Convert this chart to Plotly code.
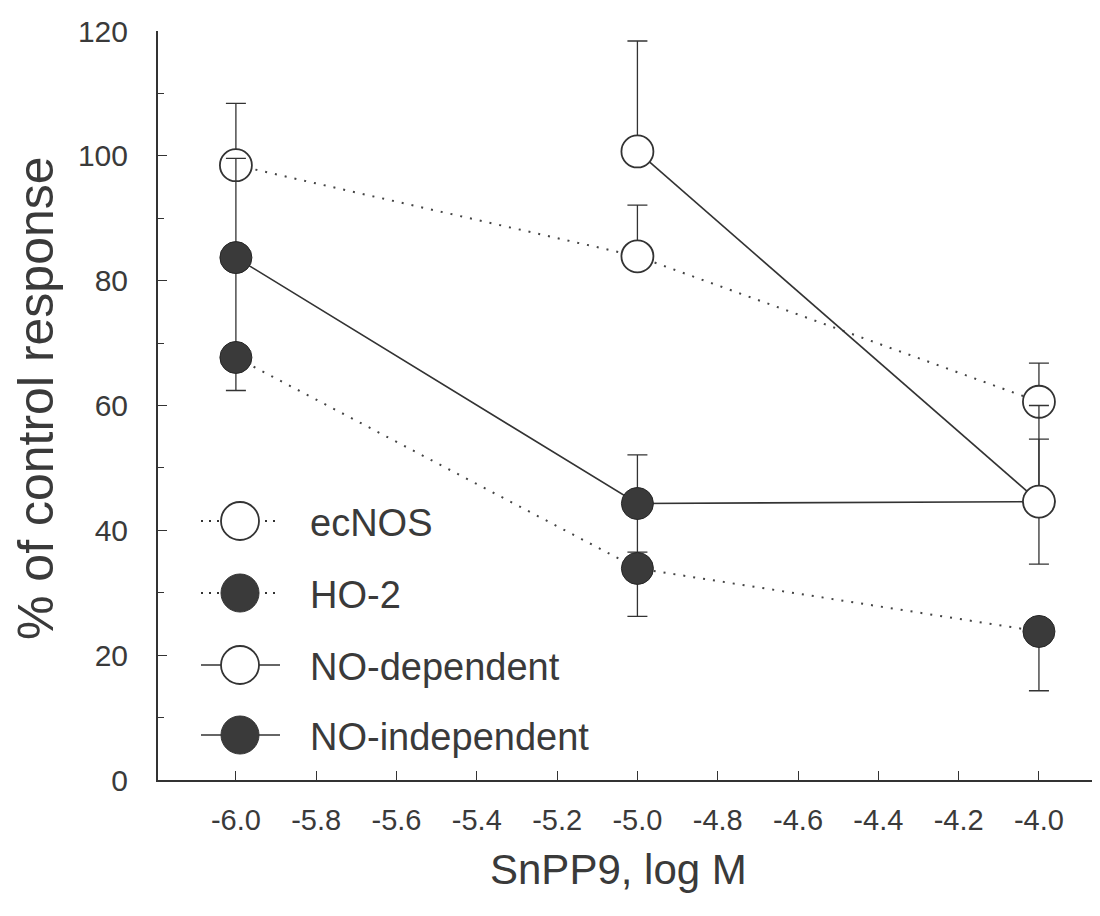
import plotly.graph_objects as go

# ---- data ----
x_ecnos = [-6.0, -5.0, -4.0]
y_ecnos = [98.5, 83.9, 60.6]
ecnos_err_up = [9.9, 8.2, 6.2]
ecnos_err_dn = [0, 0, 0]

x_ho2 = [-6.0, -5.0, -4.0]
y_ho2 = [67.7, 33.9, 23.8]
ho2_err_up = [0, 0, 0]
ho2_err_dn = [5.3, 7.7, 9.5]

x_noind = [-6.0, -5.0, -4.0]
y_noind = [83.7, 44.3, 44.6]
noind_err_up = [15.9, 7.8, 15.4]
noind_err_dn = [16.0, 7.8, 0]

x_nodep = [-5.0, -4.0]
y_nodep = [100.7, 44.6]
nodep_err_up = [17.7, 10.0]
nodep_err_dn = [0, 10.0]

x_tickvals = [-6.0, -5.8, -5.6, -5.4, -5.2, -5.0, -4.8, -4.6, -4.4, -4.2, -4.0]
x_ticktext = ["-6.0", "-5.8", "-5.6", "-5.4", "-5.2", "-5.0", "-4.8", "-4.6", "-4.4", "-4.2", "-4.0"]
y_tickvals = [0, 20, 40, 60, 80, 100, 120]

legend_names = ["ecNOS", "HO-2", "NO-dependent", "NO-independent"]

# ---- styles ----
INK = "#333333"
TXT = "#3a3a3a"
FILL = "#3a3a3a"
FONT = "Liberation Sans, Arial, sans-serif"
DOT = "2px,8px"

W, H = 1100, 916
ML, MR, MT, MB = 150, 0, 23, 144
PW, PH = W - ML - MR, H - MT - MB


def xp(px):
    return (px - ML) / PW


def yp(py):
    return (H - MB - py) / PH


def err(up, dn):
    return dict(type="data", symmetric=False, array=up, arrayminus=dn,
                color=INK, thickness=1.3, width=10)


open_marker = dict(symbol="circle", size=32, color="white", line=dict(color=INK, width=1.8))
filled_marker = dict(symbol="circle", size=32, color=FILL, line=dict(color="#262626", width=1))

fig = go.Figure()
fig.add_trace(go.Scatter(x=x_ecnos, y=y_ecnos, mode="lines+markers", name=legend_names[0],
                         line=dict(color="#444", width=2, dash=DOT),
                         marker=open_marker, error_y=err(ecnos_err_up, ecnos_err_dn),
                         showlegend=False))
fig.add_trace(go.Scatter(x=x_noind, y=y_noind, mode="lines+markers", name=legend_names[3],
                         line=dict(color=INK, width=1.6),
                         marker=filled_marker, error_y=err(noind_err_up, noind_err_dn),
                         showlegend=False))
fig.add_trace(go.Scatter(x=x_ho2, y=y_ho2, mode="lines+markers", name=legend_names[1],
                         line=dict(color="#444", width=2, dash=DOT),
                         marker=filled_marker, error_y=err(ho2_err_up, ho2_err_dn),
                         showlegend=False))
fig.add_trace(go.Scatter(x=x_nodep, y=y_nodep, mode="lines+markers", name=legend_names[2],
                         line=dict(color=INK, width=1.6),
                         marker=open_marker, error_y=err(nodep_err_up, nodep_err_dn),
                         showlegend=False))

# ---- custom legend (layout decoration) ----
shapes = []
annotations = []
legend_rows = [513, 585, 657, 727]
legend_dash = ["2px,6px", "2px,6px", "solid", "solid"]
legend_open = [True, False, True, False]
for name, row, dash, is_open in zip(legend_names, legend_rows, legend_dash, legend_open):
    shapes.append(dict(type="line", xref="paper", yref="paper",
                       x0=xp(193), x1=xp(272), y0=yp(row), y1=yp(row),
                       line=dict(color=INK, width=1.8 if dash != "solid" else 1.6, dash=dash)))
    shapes.append(dict(type="circle", xref="paper", yref="paper",
                       xsizemode="pixel", ysizemode="pixel",
                       xanchor=xp(232), yanchor=yp(row), x0=-19, x1=19, y0=-19, y1=19,
                       fillcolor="white" if is_open else FILL,
                       line=dict(color=INK, width=1.8 if is_open else 1)))
    annotations.append(dict(text=name, xref="paper", yref="paper", x=xp(300), y=yp(row + 2),
                            xanchor="left", yanchor="middle", showarrow=False,
                            font=dict(family=FONT, size=38, color=TXT)))

# axis titles
annotations.append(dict(text="% of control response", xref="paper", yref="paper",
                        x=xp(28), y=yp(390), textangle=-90, xanchor="center", yanchor="middle",
                        showarrow=False, font=dict(family=FONT, size=50, color=TXT)))
annotations.append(dict(text="SnPP9, log M", xref="paper", yref="paper",
                        x=xp(610), y=yp(861), xanchor="center", yanchor="middle",
                        showarrow=False, font=dict(family=FONT, size=42, color=TXT)))

fig.update_layout(
    width=W, height=H,
    margin=dict(l=ML, r=MR, t=MT, b=MB, autoexpand=False),
    paper_bgcolor="white", plot_bgcolor="white",
    showlegend=False,
    shapes=shapes, annotations=annotations,
    font=dict(family=FONT, color=TXT),
)
fig.update_xaxes(range=[-6.194, -3.828], showgrid=False, zeroline=False,
                 showline=True, linecolor=INK, linewidth=2,
                 ticks="inside", ticklen=9, tickwidth=1.4, tickcolor=INK,
                 tickvals=x_tickvals, ticktext=x_ticktext, ticklabelstandoff=13,
                 tickfont=dict(family=FONT, size=29, color=TXT), automargin=False)
fig.update_yaxes(range=[0, 120], showgrid=False, zeroline=False,
                 showline=True, linecolor=INK, linewidth=2,
                 ticks="inside", ticklen=9, tickwidth=1.4, tickcolor=INK,
                 tickvals=y_tickvals, ticklabelstandoff=22,
                 minor=dict(tickvals=[10, 30, 50, 70, 90, 110], ticks="inside", ticklen=6,
                            tickwidth=1.2, tickcolor=INK, showgrid=False),
                 tickfont=dict(family=FONT, size=30, color=TXT), automargin=False)

fig.write_html("out.html")
